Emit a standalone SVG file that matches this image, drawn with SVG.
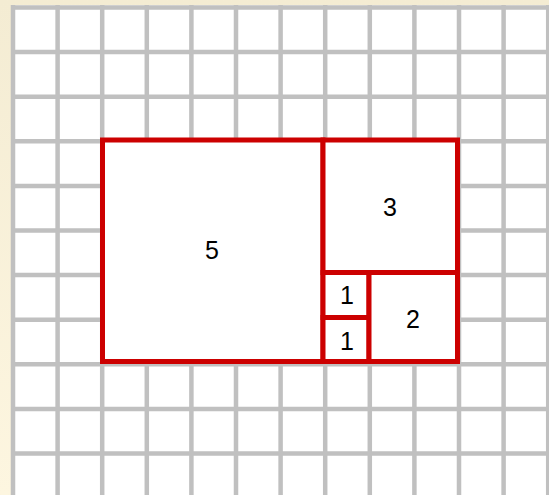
<svg xmlns="http://www.w3.org/2000/svg" width="549" height="495" viewBox="0 0 549 495">
  <defs>
    <linearGradient id="bg" x1="0" y1="0" x2="0" y2="1">
      <stop offset="0" stop-color="#f4ecd3"/>
      <stop offset="1" stop-color="#fdf6e0"/>
    </linearGradient>
    <style>
      .grid { stroke: #c0c0c0; stroke-width: 4.5; fill: none; }
      .sq { stroke: #cc0000; stroke-width: 5; fill: #ffffff; stroke-linecap: square; }
      .lbl { font-family: "Liberation Sans", Arial, sans-serif; font-size: 25px; fill: #000; text-anchor: middle; }
    </style>
  </defs>
  <rect x="0" y="0" width="549" height="495" fill="url(#bg)"/>
  <rect x="11" y="5" width="538" height="490" fill="#ffffff"/>
  <g id="grid" class="grid">
    <path d="M13 5V495M57.6 5V495M102.2 5V495M146.8 5V495M191.4 5V495M236 5V495M280.6 5V495M325.2 5V495M369.8 5V495M414.4 5V495M459 5V495M503.6 5V495M548.2 5V495"/>
    <path d="M11 7.5H549M11 52.1H549M11 96.7H549M11 141.3H549M11 185.9H549M11 230.5H549M11 275.1H549M11 319.7H549M11 364.3H549M11 408.9H549M11 453.5H549"/>
  </g>
  <g id="connectors"></g>
  <g id="square5">
    <rect class="sq" x="102.5" y="140" width="220.5" height="221.5"/>
    <text class="lbl" x="212" y="259">5</text>
  </g>
  <g id="square3">
    <rect class="sq" x="323" y="140" width="134.5" height="132.5"/>
    <text class="lbl" x="390" y="216">3</text>
  </g>
  <g id="square1a">
    <rect class="sq" x="323" y="272.5" width="46" height="45"/>
    <text class="lbl" x="347" y="304">1</text>
  </g>
  <g id="square1b">
    <rect class="sq" x="323" y="317.5" width="46" height="44"/>
    <text class="lbl" x="347" y="350">1</text>
  </g>
  <g id="square2">
    <rect class="sq" x="369" y="272.5" width="88.5" height="89"/>
    <text class="lbl" x="413" y="328">2</text>
  </g>
</svg>
